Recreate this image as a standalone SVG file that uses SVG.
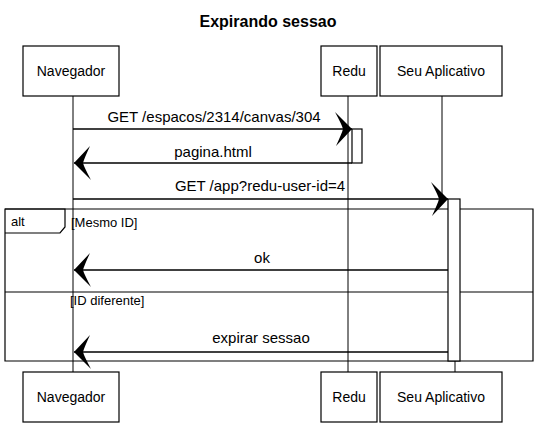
<svg xmlns="http://www.w3.org/2000/svg" width="539" height="428" viewBox="0 0 539 428">
<style>
.box{fill:#fff;stroke:#000;stroke-width:1.2}
.life{stroke:#000;stroke-width:1;fill:none}
.msg{stroke:#000;stroke-width:1.3;fill:none}
.frame{stroke:#000;stroke-width:1.2;fill:none}
text{font-family:"Liberation Sans","DejaVu Sans",sans-serif;fill:#000}
.lbl{font-size:14px;text-anchor:middle}
.mt{font-size:15px;text-anchor:middle}
.g{font-size:13px}
.title{font-size:16px;font-weight:bold;text-anchor:middle}
</style>
<defs>
<marker id="ah" markerUnits="userSpaceOnUse" markerWidth="30" markerHeight="40" viewBox="-20 -20 30 40" refX="0" refY="0" orient="auto">
<path d="M0,0 L-17,-17 Q-10,-4 -9,0 Q-10,4 -16,17 Z" fill="#000"/>
</marker>
</defs>
<rect width="539" height="428" fill="#fff"/>
<text class="title" x="268" y="27">Expirando sessao</text>

<g id="lifelines">
<line class="life" x1="73" y1="95" x2="73" y2="372"/>
<line class="life" x1="348" y1="95" x2="348" y2="372"/>
<line class="life" x1="442" y1="96" x2="442" y2="199"/>
<line class="life" x1="455" y1="361" x2="455" y2="372"/>
</g>

<g id="frame">
<path class="frame" d="M5,209 L533,209 L533,361 L5,361 Z"/>
<path class="frame" d="M5,209 L65,209 L65,227 L60,233 L5,233"/>
<line class="frame" x1="5" y1="292" x2="533" y2="292"/>
<text class="g" x="11" y="226">alt</text>
<text class="g" x="71" y="227">[Mesmo ID]</text>
<text class="g" x="70" y="305">[ID diferente]</text>
</g>

<g id="activations">
<rect class="box" x="352" y="129" width="10" height="34"/>
<rect class="box" x="448" y="199" width="12" height="162"/>
</g>

<g id="connectors">
<line class="msg" x1="73" y1="129" x2="352" y2="129" marker-end="url(#ah)"/>
<text class="mt" x="214" y="122">GET /espacos/2314/canvas/304</text>
<line class="msg" x1="352" y1="163" x2="74" y2="163" marker-end="url(#ah)"/>
<text class="mt" x="213" y="157">pagina.html</text>
<line class="msg" x1="73" y1="199" x2="448" y2="199" marker-end="url(#ah)"/>
<text class="mt" x="260" y="191">GET /app?redu-user-id=4</text>
<line class="msg" x1="448" y1="270" x2="74" y2="270" marker-end="url(#ah)"/>
<text class="mt" x="262" y="263">ok</text>
<line class="msg" x1="448" y1="352" x2="74" y2="352" marker-end="url(#ah)"/>
<text class="mt" x="261" y="343">expirar sessao</text>
</g>

<g id="navegador-top">
<rect class="box" x="23" y="46" width="96" height="50"/>
<text class="lbl" x="71" y="76">Navegador</text>
</g>
<g id="redu-top">
<rect class="box" x="321" y="46" width="56" height="50"/>
<text class="lbl" x="349" y="76">Redu</text>
</g>
<g id="app-top">
<rect class="box" x="380" y="46" width="122" height="50"/>
<text class="lbl" x="441" y="76">Seu Aplicativo</text>
</g>
<g id="navegador-bottom">
<rect class="box" x="23" y="372" width="96" height="50"/>
<text class="lbl" x="71" y="402">Navegador</text>
</g>
<g id="redu-bottom">
<rect class="box" x="321" y="372" width="56" height="50"/>
<text class="lbl" x="349" y="402">Redu</text>
</g>
<g id="app-bottom">
<rect class="box" x="380" y="372" width="122" height="50"/>
<text class="lbl" x="441" y="402">Seu Aplicativo</text>
</g>
</svg>
